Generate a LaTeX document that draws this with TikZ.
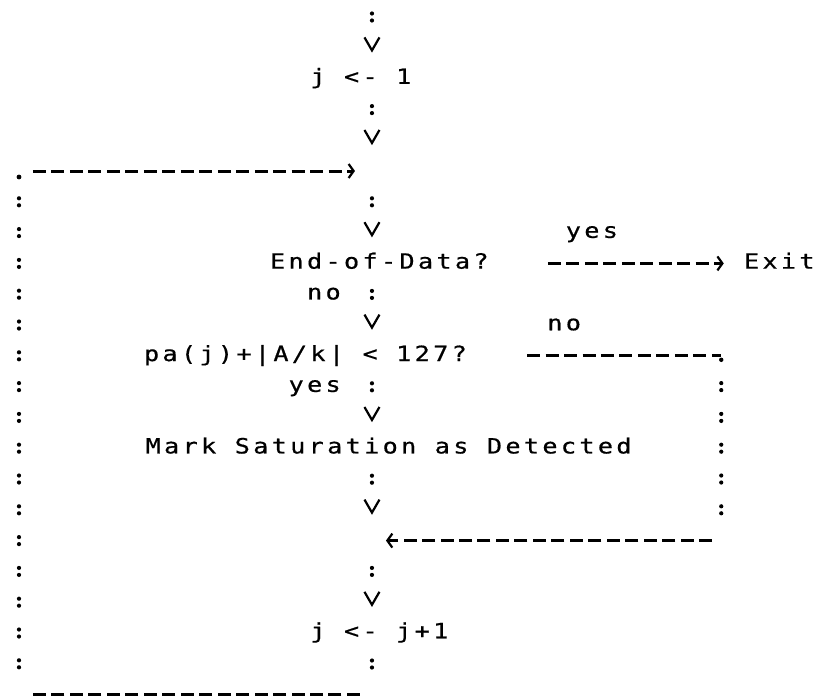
\documentclass[tikz,border=0pt]{standalone}
\usepackage{fontspec}
\newfontfamily\dotfont[FakeStretch=1.2, FakeBold=0.6, LetterSpace=15.8]{DejaVu Sans Mono}
\usetikzlibrary{arrows.meta}

\tikzset{
  stmt/.style={font={\dotfont\fontsize{21pt}{25pt}\selectfont}, inner xsep=0pt, inner ysep=15.3pt,
    text height=15.75pt, text depth=5.25pt},
  lbl/.style={stmt, inner ysep=0pt},
  vflow/.style={draw, line width=4.2pt, line cap=round, dash pattern=on 0pt off 7pt on 0pt off 100pt,
    dash phase=105.5pt, -{Straight Barb[length=13pt,width=15pt,line width=2.2pt]}},
  colons/.style={draw, line width=4.2pt, line cap=round, dash pattern=on 0pt off 7pt on 0pt off 23.8pt,
    dash phase=29.3pt},
  hline/.style={draw, line width=3pt, dash pattern=on 13pt off 5.48pt},
  hflow/.style={hline, -{Straight Barb[length=5pt,width=14pt,line width=2.2pt]}}
}

\begin{document}
\begin{tikzpicture}[x=18.48pt, y=-30.8pt]
  \useasboundingbox (-1.0281,0.448) rectangle (43.723,23.078);

  % statements, one per printer row
  \node[stmt] (init) at (18.5,3) {j <- 1};
  \node[stmt] (eod) at (19.5,9) {End-of-Data?};
  \node[stmt] (exit) at (41.14,9) {Exit};
  \node[stmt] (test) at (15.5,12) {pa(j)+|A/k| < 127?};
  \node[stmt] (mark) at (20,15) {Mark Saturation as Detected};
  \node[stmt] (incr) at (19.5,21) {j <- j+1};

  \node[lbl] (yesexit) at (31,8) {yes};
  \node[lbl] (noeod) at (16.5,10) {no};
  \node[lbl] (notest) at (29.5,11) {no};
  \node[lbl] (yestest) at (16,13) {yes};

  \coordinate (in) at (19.1,0);
  \coordinate (join) at (19.1,6);
  \coordinate (back) at (19.1,18);
  \coordinate (bot) at (19.1,23);
  \coordinate (tr) at (38,12);
  \coordinate (br) at (38,18);
  \coordinate (bl) at (0,23);
  \coordinate (tl) at (0,6);

  % main line
  \draw[vflow, shorten <=25.8pt] (in) -- (init.north -| in);
  \draw[vflow, shorten >=25.8pt] (init.south -| join) -- (join);
  \draw[vflow, shorten <=25.8pt] (join) -- (eod.north -| join);
  \draw[hflow, shorten <=59pt, shorten >=20pt] (eod) -- (exit);
  \draw[vflow] (eod.south -| join) -- (test.north -| join);
  \draw[vflow] (test.south -| join) -- (mark.north -| join);
  \draw[vflow, shorten >=25.8pt] (mark.south -| join) -- (back);
  \draw[vflow, shorten <=25.8pt] (back) -- (incr.north -| join);

  % no branch
  \draw[hline, shorten <=60pt] (test.east) -- (tr);
  \fill ([yshift=-4pt]tr) circle (2.2pt);
  \draw[colons, shorten <=25.8pt, shorten >=25pt] (tr) -- (br);
  \draw[hflow, shorten <=9pt, shorten >=14pt] (br) -- (back);

  % loop back
  \draw[colons, shorten >=20pt] (incr.south -| join) -- (bot);
  \draw[hline, shorten <=12pt, shorten >=11pt] (bot) -- (bl);
  \draw[colons, shorten <=25.8pt, shorten >=25pt] (bl) -- (tl);
  \fill ([yshift=-6pt]tl) circle (2.4pt);
  \draw[hflow, shorten <=14pt, shorten >=17pt] (tl) -- (join);
\end{tikzpicture}
\end{document}
